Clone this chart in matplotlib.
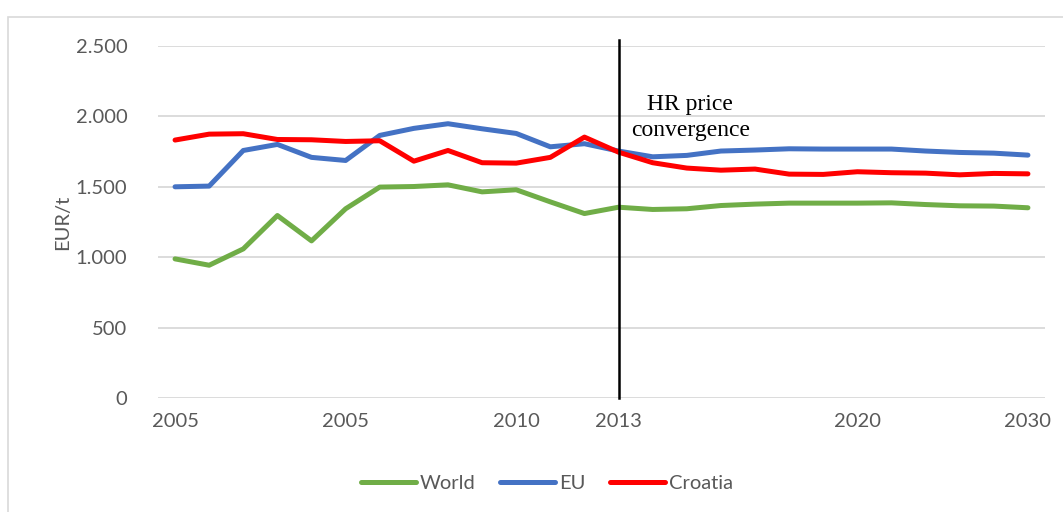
import matplotlib.pyplot as plt
from matplotlib.patches import Rectangle

# category positions on the x axis (26 points), only some are labelled
n_points = 26
tick_pos = [0, 5, 10, 13, 20, 25]
tick_labels = ['2005', '2005', '2010', '2013', '2020', '2030']

world = [988, 943, 1059, 1296, 1116, 1344, 1498, 1502, 1514, 1464, 1479, 1393, 1310,
         1355, 1339, 1344, 1367, 1377, 1384, 1384, 1384, 1386, 1374, 1365, 1363, 1351]
eu = [1500, 1505, 1758, 1801, 1709, 1687, 1865, 1915, 1948, 1912, 1879, 1784, 1806,
      1754, 1713, 1723, 1754, 1761, 1770, 1768, 1768, 1768, 1754, 1744, 1739, 1725]
croatia = [1832, 1874, 1877, 1836, 1834, 1822, 1827, 1682, 1758, 1671, 1668, 1709, 1853,
           1746, 1671, 1633, 1618, 1626, 1590, 1588, 1607, 1600, 1597, 1585, 1595, 1592]

convergence_idx = 13

plt.rcParams['font.family'] = ['Lato', 'DejaVu Sans']
grey = '#595959'
fs = 14.5

fig = plt.figure(figsize=(10.63, 5.12), dpi=100)
ax = fig.add_axes([158/1063, 1 - 398/512, (1045 - 158)/1063, (398 - 46)/512])

# outer chart border
fig.patches.append(Rectangle((8/1063, -0.01), 1.0, 1 - 17/512 + 0.01,
                             transform=fig.transFigure, fill=False,
                             edgecolor='#D9D9D9', linewidth=1.2))

x = list(range(n_points))
ax.plot(x, world, color='#70AD47', lw=3.6, label='World', solid_capstyle='round')
ax.plot(x, eu, color='#4472C4', lw=3.6, label='EU', solid_capstyle='round')
ax.plot(x, croatia, color='#FF0000', lw=3.6, label='Croatia', solid_capstyle='round')

# convergence marker line
ax.plot([convergence_idx, convergence_idx], [0, 2545], color='black', lw=1.8, clip_on=False)
ax.text(convergence_idx + 2.1, 1990, 'HR price\nconvergence', family='Liberation Serif',
        fontsize=17, ha='center', va='center', linespacing=1.3)

ax.set_xlim(-0.5, n_points - 0.5)
ax.set_ylim(0, 2500)
ax.set_yticks([0, 500, 1000, 1500, 2000, 2500])
ax.set_yticklabels(['0', '500', '1.000', '1.500', '2.000', '2.500'])
ax.set_xticks(tick_pos)
ax.set_xticklabels(tick_labels)
ax.tick_params(axis='both', length=0, labelsize=fs, labelcolor=grey)
ax.tick_params(axis='y', pad=22)
ax.tick_params(axis='x', pad=11)
ax.yaxis.grid(True, color='#D9D9D9', lw=1.3)
ax.set_axisbelow(True)
for s in ax.spines.values():
    s.set_visible(False)

ax.set_ylabel('EUR/t', fontsize=fs, color=grey, labelpad=3)

fig.legend(loc='center', bbox_to_anchor=(547/1063, 1 - 483/512), ncol=3, frameon=False,
           fontsize=fs, labelcolor=grey, handlelength=2.7, handletextpad=0.2,
           columnspacing=1.25)

fig.savefig('out.png', dpi=100)
